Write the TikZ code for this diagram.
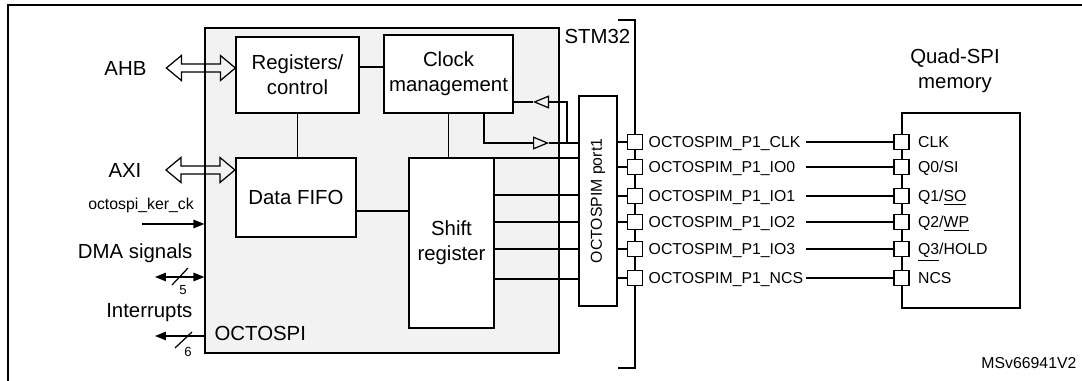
\documentclass[tikz,border=0pt]{standalone}
\usepackage{fontspec}
\setmainfont{Liberation Sans}
\usetikzlibrary{arrows.meta}
\begin{document}
\begin{tikzpicture}[
        x=0.02cm, y=-0.02cm, line width=0.7pt,
        >={Triangle[length=0.22cm, width=0.17cm]},
        big/.style={font=\fontsize{11.6}{14}\selectfont},
        small/.style={font=\fontsize{9}{11}\selectfont},
        tiny/.style={font=\fontsize{7.5}{9}\selectfont},
        block/.style={rectangle, draw, fill=white, align=center, inner sep=0pt, big},
        pin/.style={rectangle, draw, fill=white, minimum size=0.3cm, inner sep=0pt},
        pinlabel/.style={small, anchor=west, inner sep=0pt, text height=6.4pt, text depth=0pt},
        tri/.style={-{Triangle[open, length=0.32cm, width=0.26cm]}}
    ]
    \useasboundingbox (0,0) rectangle (1082,381);
    \draw[line width=1.7pt] (8,381) -- (8,5) -- (1082,5);

    \node[rectangle, draw, fill=gray!10, minimum width=7.08cm, minimum height=6.5cm] (octospi) at (382,190.5) {};
    \node[big, anchor=west, inner sep=0pt] (octlabel) at (214,333) {OCTOSPI};
    \node[big, anchor=west, inner sep=0pt] (stm) at (564,36) {STM32};

    \node[block, minimum width=2.46cm, minimum height=1.52cm] (reg) at (297.5,75) {Registers/\\control};
    \node[block, minimum width=2.58cm, minimum height=1.56cm] (clk) at (448.5,74) {Clock\\management};
    \node[block, line width=1.2pt, minimum width=2.4cm, minimum height=1.58cm] (fifo) at (296,197.5) {Data FIFO};
    \node[block, minimum width=1.7cm, minimum height=3.4cm] (shift) at (451.5,243) {Shift\\register};
    \node[block, minimum width=0.76cm, minimum height=4.2cm] (port) at (598,201) {};
    \node[small, rotate=90, inner sep=0pt] (portlabel) at (port.center) {OCTOSPIM port1};

    \draw ([yshift=0.16cm]reg.east) -- ([yshift=0.16cm]reg.east -| clk.west);
    \draw (reg.south) -- (reg.south |- fifo.north);
    \draw (clk.south) -- (clk.south |- shift.north);
    \draw ([yshift=-0.27cm]fifo.east) -- ([yshift=-0.27cm]fifo.east -| shift.west);
    \foreach \y in {158,195,222,249,279} {
        \draw (shift.east |- 0,\y) -- (port.west |- 0,\y);
    }

    \coordinate (ckin) at (533,102);
    \coordinate (ckout) at (549,143);
    \coordinate (ckjoin) at (567,143);
    \draw[tri] ([xshift=0.71cm]clk.south) |- (ckout);
    \draw (ckout) -- (port.west |- ckout);
    \draw[tri] (ckjoin) |- (ckin);
    \draw (ckin) -- (clk.east |- ckin);

    \node[big, anchor=east, inner sep=0pt] (ahb) at (147,68) {AHB};
    \node[big, anchor=east, inner sep=0pt] (axi) at (142,170) {AXI};
    \foreach \lab/\blk in {ahb/reg, axi/fifo} {
        \draw (\blk.west |- \lab.east) -- ++(-15,-12.5) -- ++(0,8.5) -- ++(-39,0) -- ++(0,-8.5)
            -- ++(-15,12.5) -- ++(15,12.5) -- ++(0,-8.5) -- ++(39,0) -- ++(0,8.5) -- cycle;
    }

    \node[small, inner sep=0pt] (kerck) at (141,205) {octospi\_ker\_ck};
    \coordinate (kerstart) at (142,224);
    \draw[->] (kerstart) -- (kerstart -| octospi.west);

    \node[big, anchor=east, inner sep=0pt] (dma) at (193,253) {DMA signals};
    \coordinate (dmaend) at (155,277);
    \draw[<->] (dmaend) -- (dmaend -| octospi.west);
    \draw (dmaend) ++(17,8) -- ++(16,-17);
    \path (dmaend) ++(28,13) node[tiny, inner sep=0pt] (dmacount) {5};

    \node[big, anchor=east, inner sep=0pt] (irq) at (193,313) {Interrupts};
    \coordinate (irqend) at (155,336);
    \draw[<-] (irqend) -- (irqend -| octospi.west);
    \draw (irqend) ++(20,12) -- ++(17,-16);
    \path (irqend) ++(33,16) node[tiny, inner sep=0pt] (irqcount) {6};

    \coordinate (bktop) at (635,20);
    \coordinate (bkbot) at (635,368);
    \draw[line width=1.1pt] (bktop) ++(-17,0) -- (bktop) -- (bkbot) -- ++(-17,0);

    \node[rectangle, draw, minimum width=2.36cm, minimum height=3.9cm] (mem) at (961,210.5) {};
    \node[big, align=center] (memlabel) at (955,71) {Quad-SPI\\memory};
    \coordinate (linestart) at (806,0);
    \foreach \i/\y/\sig/\mlab in {1/142/CLK/CLK, 2/167/IO0/{Q0/SI}, 3/196/IO1/{Q1/\underline{SO}},
            4/222/IO2/{Q2/\underline{WP}}, 5/249/IO3/{\underline{Q3}/HOLD}, 6/278/NCS/NCS} {
        \node[pin] (sp\i) at (bktop |- 0,\y) {};
        \node[pin] (mp\i) at (mem.west |- 0,\y) {};
        \draw (port.east |- sp\i) -- (sp\i);
        \node[pinlabel] (sl\i) at ([xshift=0.1cm]sp\i.east) {OCTOSPIM\_P1\_\sig};
        \node[pinlabel] (ml\i) at ([xshift=0.16cm]mp\i.east) {\mlab};
        \draw (linestart |- mp\i) -- (mp\i);
    }

    \node[small, anchor=east, inner sep=0pt] (msv) at (1077,363) {MSv66941V2};
\end{tikzpicture}
\end{document}
